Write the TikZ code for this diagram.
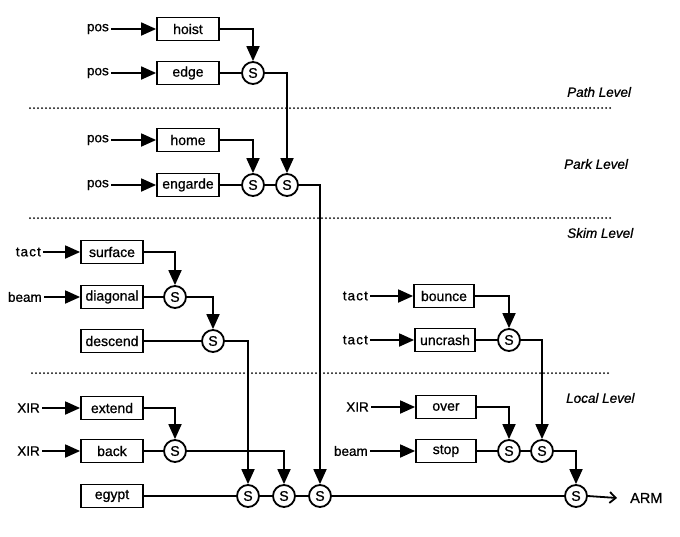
\documentclass[tikz,border=0pt]{standalone}
\usepackage{fontspec}
\setmainfont[FakeBold=0.8]{Liberation Sans}
\newfontfamily\spacedfont[LetterSpace=8,FakeBold=0.8]{Liberation Sans}
\usetikzlibrary{arrows.meta}
\begin{document}
\begin{tikzpicture}[x=1pt,y=-1pt,
 box/.style={draw,line width=1.8pt,minimum width=62pt,minimum height=23pt,inner sep=0pt,font=\fontsize{14}{14}\selectfont},
 sw/.style={draw,circle,line width=1.8pt,minimum size=22pt,inner sep=0pt,font=\fontsize{14}{14}\selectfont},
 inp/.style={anchor=east,inner sep=2pt,font=\fontsize{13.5}{13.5}\selectfont},
 wire/.style={line width=1.8pt},
 arr/.style={wire,-{Triangle[length=15pt,width=13pt]}},
 lvl/.style={anchor=west,inner sep=0pt,font=\fontsize{13.5}{13.5}\selectfont\itshape},
 dotline/.style={line width=2pt,line cap=round,dash pattern=on 0pt off 4pt}]
\useasboundingbox (0,0) rectangle (680,536);

% level separators
\draw[dotline] (30,108) -- (610,108);
\draw[dotline] (30,218) -- (610,218);
\draw[dotline] (32,373) -- (608,373);
\node[lvl] at (567,92) {Path Level};
\node[lvl] at (564,164) {Park Level};
\node[lvl] at (567,233) {Skim Level};
\node[lvl] at (566,398) {Local Level};

% boxes
\node[box] (hoist) at (188,29) {hoist};
\node[box] (edge) at (188,73) {edge};
\node[box] (home) at (188,140) {home};
\node[box] (engarde) at (188,185) {engarde};
\node[box] (surface) at (112,252) {surface};
\node[box] (diagonal) at (112,297) {diagonal};
\node[box] (descend) at (112,341) {descend};
\node[box] (extend) at (112,408) {extend};
\node[box] (back) at (112,451) {back};
\node[box] (egypt) at (112,496) {egypt};
\node[box,minimum width=60pt] (bounce) at (444,296) {bounce};
\node[box,minimum width=60pt] (uncrash) at (445,340) {uncrash};
\node[box,minimum width=60pt] (over) at (446,407) {over};
\node[box,minimum width=60pt] (stop) at (446,451) {stop};

% suppressor nodes
\node[sw] (s1) at (253,73) {S};
\node[sw] (s2) at (253,185) {S};
\node[sw] (s3) at (287,185) {S};
\node[sw] (s4) at (175,297) {S};
\node[sw] (s5) at (213,341) {S};
\node[sw] (s6) at (509,340) {S};
\node[sw] (s7) at (175,451) {S};
\node[sw] (s8) at (509,451) {S};
\node[sw] (s9) at (542,451) {S};
\node[sw] (s10) at (248,496) {S};
\node[sw] (s11) at (284,496) {S};
\node[sw] (s12) at (320,496) {S};
\node[sw] (s13) at (576,496) {S};

% inputs
\node[inp] (i1) at (111,29) {pos};
\node[inp] (i2) at (111,73) {pos};
\node[inp] (i3) at (111,140) {pos};
\node[inp] (i4) at (111,185) {pos};
\node[inp] (i5) at (43,252) {\spacedfont tact};
\node[inp] (i6) at (44,297) {beam};
\node[inp] (i7) at (42,408) {XIR};
\node[inp] (i8) at (42,451) {XIR};
\node[inp] (i9) at (370,296) {\spacedfont tact};
\node[inp] (i10) at (370,340) {\spacedfont tact};
\node[inp] (i11) at (371,407) {XIR};
\node[inp] (i12) at (370,451) {beam};
\node[anchor=west,inner sep=0pt,inner xsep=13pt,font=\fontsize{14.5}{14.5}\selectfont] (arm) at (617,498) {ARM};

\foreach \a/\b in {i1/hoist,i2/edge,i3/home,i4/engarde,i5/surface,i6/diagonal,i7/extend,i8/back,i9/bounce,i10/uncrash,i11/over,i12/stop}
  \draw[arr] (\a.east) -- (\b.west);

% suppression wiring
\draw[arr] (hoist.east) -| (s1.north);
\draw[wire] (edge.east) -- (s1.west);
\draw[arr] (s1.east) -| (s3.north);
\draw[arr] (home.east) -| (s2.north);
\draw[wire] (engarde.east) -- (s2.west);
\draw[wire] (s2.east) -- (s3.west);
\draw[arr] (s3.east) -| (s12.north);
\draw[arr] (surface.east) -| (s4.north);
\draw[wire] (diagonal.east) -- (s4.west);
\draw[arr] (s4.east) -| (s5.north);
\draw[wire] (descend.east) -- (s5.west);
\draw[arr] (s5.east) -| (s10.north);
\draw[arr] (bounce.east) -| (s6.north);
\draw[wire] (uncrash.east) -- (s6.west);
\draw[arr] (s6.east) -| (s9.north);
\draw[arr] (extend.east) -| (s7.north);
\draw[wire] (back.east) -- (s7.west);
\draw[arr] (s7.east) -| (s11.north);
\draw[arr] (over.east) -| (s8.north);
\draw[wire] (stop.east) -- (s8.west);
\draw[wire] (s8.east) -- (s9.west);
\draw[arr] (s9.east) -| (s13.north);
\draw[wire] (egypt.east) -- (s10.west);
\draw[wire] (s10.east) -- (s11.west);
\draw[wire] (s11.east) -- (s12.west);
\draw[wire] (s12.east) -- (s13.west);
\draw[wire,-{Straight Barb[length=6pt,width=11pt]}] (s13.east) -- (arm.west);
\end{tikzpicture}
\end{document}
